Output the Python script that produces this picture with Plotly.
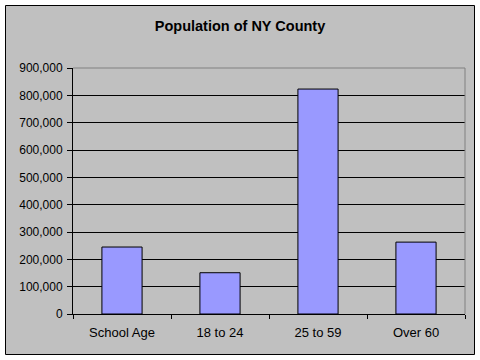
import plotly.graph_objects as go

categories = ["School Age", "18 to 24", "25 to 59", "Over 60"]
population = [245000, 151000, 823000, 263000]
y_ticks = [0, 100000, 200000, 300000, 400000, 500000, 600000, 700000, 800000, 900000]

L, R, T, B = 73, 15, 68, 46
W, H = 480, 360
pw = W - L - R
ph = H - T - B

def px(x):
    return (x - L) / pw

def py(y):
    return (H - B - y) / ph

fig = go.Figure(go.Bar(
    x=categories, y=population,
    marker=dict(color="#9999FF", line=dict(color="black", width=1)),
    width=0.41,
))

fig.update_layout(
    width=W, height=H,
    margin=dict(l=L, r=R, t=T, b=B),
    paper_bgcolor="white",
    plot_bgcolor="#C0C0C0",
    font=dict(family="Liberation Sans, Arial, sans-serif", size=12, color="black"),
    title=dict(text="<b>Population of NY County</b>", x=0.5, xref="container", xanchor="center",
               y=1 - 26 / H, yref="container", yanchor="middle",
               font=dict(size=14.5, color="black")),
    showlegend=False,
    shapes=[
        dict(type="rect", xref="paper", yref="paper", layer="below",
             x0=px(5.5), x1=px(474.5), y0=py(354.5), y1=py(5.5),
             line=dict(color="black", width=1), fillcolor="#C0C0C0"),
        dict(type="line", xref="paper", yref="paper", layer="above",
             x0=0, x1=1, y0=1, y1=1, line=dict(color="#808080", width=1)),
        dict(type="line", xref="paper", yref="paper", layer="above",
             x0=1, x1=1, y0=0, y1=1, line=dict(color="#808080", width=1)),
    ],
)

fig.update_xaxes(
    type="category", showline=True, linecolor="black", linewidth=1,
    ticks="outside", tickson="boundaries", ticklen=4, tickcolor="black",
    tickfont=dict(size=13), ticklabelstandoff=6,
    showgrid=False, zeroline=False, fixedrange=True,
)
fig.update_yaxes(
    range=[0, 900000], tickvals=y_ticks, tickformat=",",
    showline=True, linecolor="black", linewidth=1,
    ticks="outside", ticklen=5, tickcolor="black", ticklabelstandoff=2,
    showgrid=True, gridcolor="black", gridwidth=1, zeroline=False, fixedrange=True,
)

fig.write_html("out.html", config={"displayModeBar": False, "staticPlot": True},
               post_script="document.body.style.margin='0';document.body.style.overflow='hidden';")
